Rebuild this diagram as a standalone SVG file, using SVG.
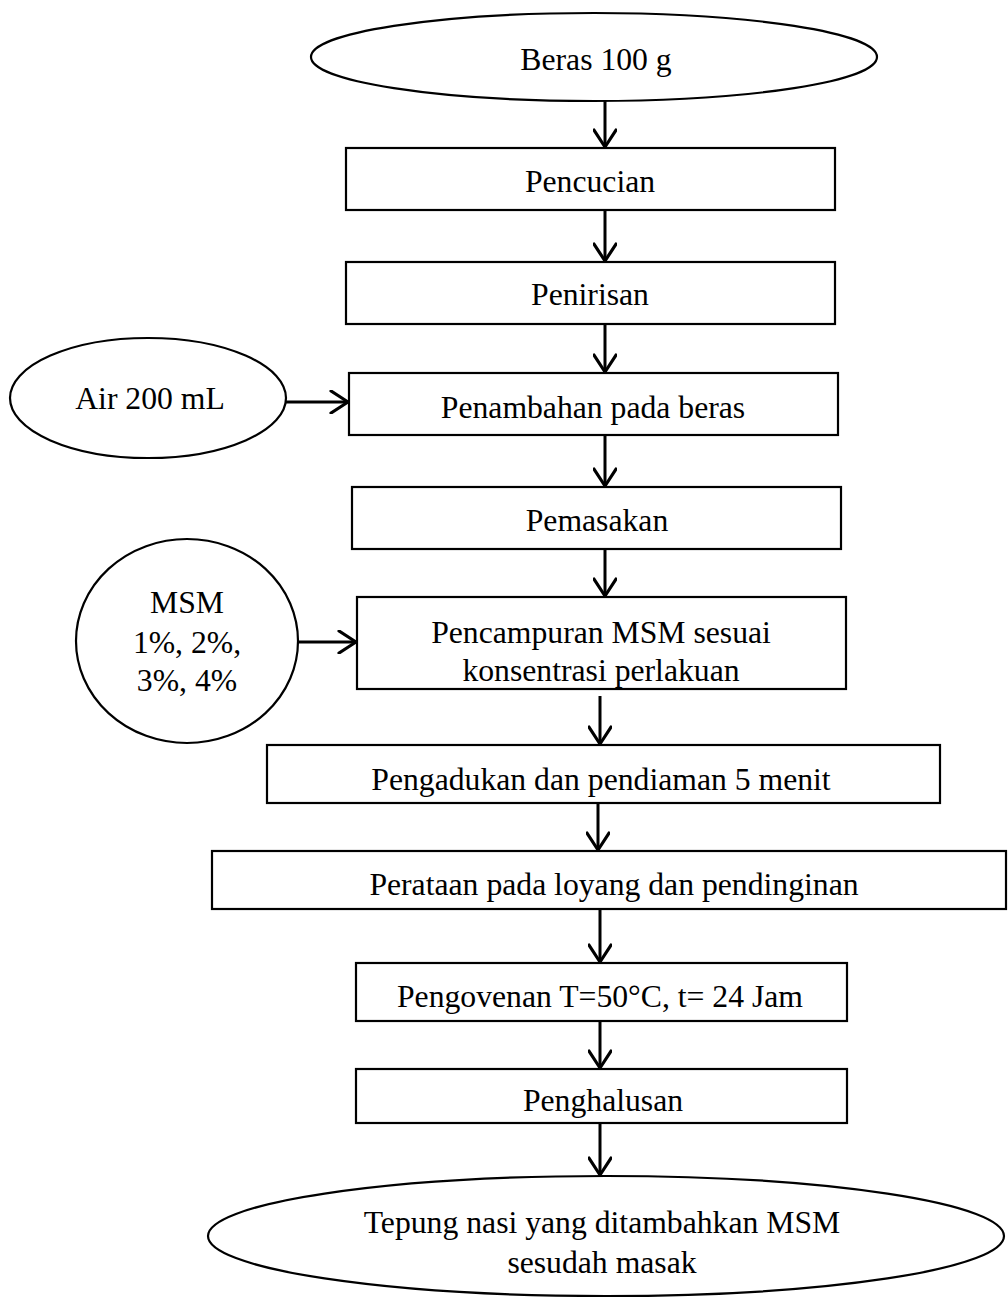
<svg xmlns="http://www.w3.org/2000/svg" width="1008" height="1298" viewBox="0 0 1008 1298">
<style>
.shape{fill:#fff;stroke:#000;stroke-width:2.2}
.t{font-family:"Liberation Serif","Times New Roman",serif;font-size:31.7px;fill:#000;text-anchor:middle}
.c{stroke:#000;stroke-width:3;fill:none}
</style>
<defs>
<marker id="ah" viewBox="-20 -12 22 24" refX="0" refY="0" markerWidth="22" markerHeight="24" markerUnits="userSpaceOnUse" orient="auto">
<path d="M-17,-11 L0,0 L-17,11" fill="none" stroke="#000" stroke-width="3.2" stroke-linejoin="round" stroke-linecap="round"/>
</marker>
</defs>
<rect width="1008" height="1298" fill="#fff"/>
<g id="connectors">
<line class="c" x1="605" y1="101" x2="605" y2="147" marker-end="url(#ah)"/>
<line class="c" x1="605" y1="210" x2="605" y2="261" marker-end="url(#ah)"/>
<line class="c" x1="605" y1="324" x2="605" y2="372" marker-end="url(#ah)"/>
<line class="c" x1="286" y1="402" x2="348" y2="402" marker-end="url(#ah)"/>
<line class="c" x1="605" y1="435" x2="605" y2="486" marker-end="url(#ah)"/>
<line class="c" x1="605" y1="549" x2="605" y2="596" marker-end="url(#ah)"/>
<line class="c" x1="298" y1="642" x2="356" y2="642" marker-end="url(#ah)"/>
<line class="c" x1="600" y1="696" x2="600" y2="744" marker-end="url(#ah)"/>
<line class="c" x1="598" y1="803" x2="598" y2="850" marker-end="url(#ah)"/>
<line class="c" x1="600" y1="909" x2="600" y2="962" marker-end="url(#ah)"/>
<line class="c" x1="600" y1="1021" x2="600" y2="1068" marker-end="url(#ah)"/>
<line class="c" x1="600" y1="1123" x2="600" y2="1175" marker-end="url(#ah)"/>
</g>
<g id="n-beras">
<ellipse class="shape" cx="594" cy="57" rx="283" ry="44"/>
<text class="t" x="596" y="70">Beras 100 g</text>
</g>
<g id="n-pencucian">
<rect class="shape" x="346" y="148" width="489" height="62"/>
<text class="t" x="590" y="192">Pencucian</text>
</g>
<g id="n-penirisan">
<rect class="shape" x="346" y="262" width="489" height="62"/>
<text class="t" x="590" y="305">Penirisan</text>
</g>
<g id="n-air">
<ellipse class="shape" cx="148" cy="398" rx="138" ry="60"/>
<text class="t" x="150" y="409">Air 200 mL</text>
</g>
<g id="n-penambahan">
<rect class="shape" x="349" y="373" width="489" height="62"/>
<text class="t" x="593" y="418">Penambahan pada beras</text>
</g>
<g id="n-pemasakan">
<rect class="shape" x="352" y="487" width="489" height="62"/>
<text class="t" x="597" y="531">Pemasakan</text>
</g>
<g id="n-msm">
<ellipse class="shape" cx="187" cy="641" rx="111" ry="102"/>
<text class="t" x="187" y="613">MSM</text>
<text class="t" x="187" y="653">1%, 2%,</text>
<text class="t" x="187" y="691">3%, 4%</text>
</g>
<g id="n-pencampuran">
<rect class="shape" x="357" y="597" width="489" height="92"/>
<text class="t" x="601" y="643">Pencampuran MSM sesuai</text>
<text class="t" x="601" y="681">konsentrasi perlakuan</text>
</g>
<g id="n-pengadukan">
<rect class="shape" x="267" y="745" width="673" height="58"/>
<text class="t" x="601" y="790">Pengadukan dan pendiaman 5 menit</text>
</g>
<g id="n-perataan">
<rect class="shape" x="212" y="851" width="794" height="58"/>
<text class="t" x="614" y="895">Perataan pada loyang dan pendinginan</text>
</g>
<g id="n-pengovenan">
<rect class="shape" x="356" y="963" width="491" height="58"/>
<text class="t" x="600" y="1007">Pengovenan T=50°C, t= 24 Jam</text>
</g>
<g id="n-penghalusan">
<rect class="shape" x="356" y="1069" width="491" height="54"/>
<text class="t" x="603" y="1111">Penghalusan</text>
</g>
<g id="n-tepung">
<ellipse class="shape" cx="606" cy="1236" rx="398" ry="60"/>
<text class="t" x="602" y="1233">Tepung nasi yang ditambahkan MSM</text>
<text class="t" x="602" y="1273">sesudah masak</text>
</g>
</svg>
